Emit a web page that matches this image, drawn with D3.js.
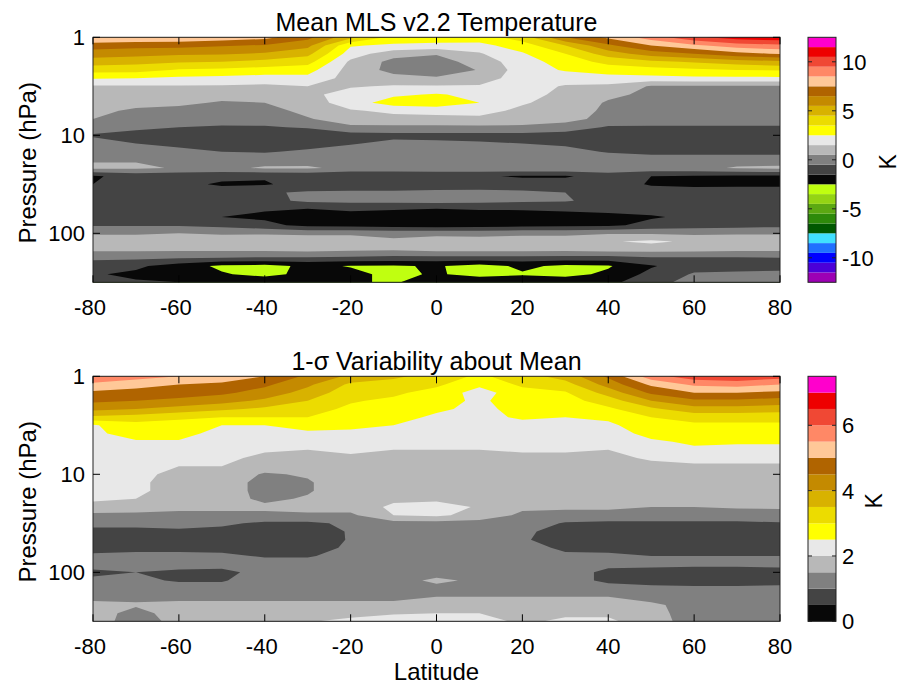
<!DOCTYPE html>
<html>
<head>
<meta charset="utf-8">
<script src="https://cdn.jsdelivr.net/npm/d3@7"></script>
<style>
  body { margin: 0; background: #fff; }
  svg text { font-family: "Liberation Sans", Arial, Helvetica, sans-serif; fill: #000; }
</style>
</head>
<body>
<svg id="chart" width="901" height="687"></svg>
<script>
// grid: latitude columns, pressure rows (12 levels per decade, 1 to 316 hPa)
const latitudes = [-80, -70, -60, -50, -40, -30, -20, -10, 0, 10, 20, 30, 40, 50, 60, 70, 80];
const pressures = [1, 1.21, 1.47, 1.78, 2.15, 2.61, 3.16, 3.83, 4.64, 5.62, 6.81, 8.25, 10,
  12.1, 14.7, 17.8, 21.5, 26.1, 31.6, 38.3, 46.4, 56.2, 68.1, 82.5, 100,
  121, 147, 178, 215, 261, 316];

// mean temperature (K), one array per latitude, values from 1 hPa down to 316 hPa
const meanTemp = [
  [8.5,7.0,6.0,5.0,3.9,2.6,1.4,1.1,1.0,0.8,0.5,0.0,-0.6,-0.2,0.1,0.4,0.7,-1.6,-1.5,-1.0,-0.9,-0.9,-0.8,-0.6,0.4,1.0,0.7,-0.3,-1.0,-1.4,-1.3],
  [8.4,6.8,5.9,4.8,3.9,2.5,1.4,1.1,0.9,0.3,0.1,-0.2,-1.0,-0.5,0.0,0.4,0.7,-1.2,-1.2,-1.0,-0.9,-0.9,-0.8,-0.6,0.4,1.0,0.7,-0.3,-1.3,-1.7,-1.4],
  [8.3,6.8,5.7,4.6,3.4,2.3,1.4,1.0,0.7,0.2,0.0,-0.5,-1.1,-0.8,-0.2,0.2,0.4,-1.2,-1.3,-1.0,-0.9,-0.9,-0.9,-0.6,0.5,1.0,0.7,-0.4,-2.0,-1.9,-1.5],
  [8.1,6.6,5.6,4.5,3.3,2.2,1.4,0.9,0.4,0.1,-0.1,-0.6,-1.2,-1.1,-0.5,0.0,0.3,-1.3,-1.6,-1.1,-1.0,-1.2,-1.5,-0.8,0.4,1.0,0.7,-0.5,-2.7,-2.4,-1.7],
  [7.8,6.4,5.4,4.2,3.1,2.1,1.3,0.9,0.5,0.1,0.0,-0.6,-1.2,-1.2,-0.6,0.1,0.6,-1.4,-1.6,-0.6,-0.8,-1.4,-1.7,-1.2,0.4,1.1,0.7,-0.6,-2.8,-2.8,-1.8],
  [6.8,5.8,4.8,3.9,2.9,2.2,1.5,1.2,1.0,0.8,0.4,-0.4,-1.1,-1.0,-0.3,0.2,0.6,-1.3,-1.1,-0.4,-0.3,-1.5,-2.0,-1.8,0.3,1.1,0.8,-0.6,-2.3,-2.2,-1.8],
  [4.8,2.6,2.0,1.3,1.1,1.1,1.4,2.0,2.0,1.4,1.1,0.3,-0.9,-0.6,0.0,0.2,0.3,-1.5,-1.2,-0.3,-0.2,-1.3,-2.0,-1.9,0.3,1.1,0.7,-0.7,-2.55,-2.3,-2.4],
  [3.2,2.3,0.9,0.2,0.2,0.8,1.6,2.3,3.0,1.7,1.2,0.3,-0.8,-0.2,0.1,0.2,0.3,-1.5,-1.2,-0.3,-0.2,-1.4,-2.1,-2.0,0.2,0.7,0.6,-0.8,-2.6,-2.7,-2.6],
  [3.1,2.2,0.6,0.0,0.0,0.6,1.6,2.6,3.2,1.8,1.2,0.3,-0.8,-0.3,0.1,0.3,0.4,-1.5,-1.2,-0.2,-0.1,-1.5,-2.2,-2.1,0.2,1.0,0.8,-0.8,-2.4,-2.4,-2.0],
  [3.0,2.2,1.4,1.0,0.55,1.0,1.6,2.2,2.5,1.8,1.3,0.3,-0.8,-0.4,0.0,0.2,0.3,-1.4,-1.1,-0.2,-0.2,-1.4,-2.1,-2.0,0.2,0.9,0.8,-0.8,-2.9,-2.8,-1.9],
  [4.0,3.0,2.4,2.0,2.0,2.0,2.0,1.9,1.6,1.3,1.1,0.3,-0.8,-0.5,0.0,0.2,0.3,-1.6,-1.1,-0.3,-0.3,-1.4,-2.0,-1.9,0.3,1.0,0.8,-0.8,-2.3,-2.6,-1.9],
  [6.5,4.5,3.5,3.0,2.6,2.0,1.4,1.2,1.1,1.0,0.9,0.0,-0.9,-0.7,-0.1,0.2,0.3,-1.6,-1.1,-0.5,-0.4,-1.3,-1.9,-1.8,0.3,1.0,0.8,-0.9,-2.7,-2.8,-1.9],
  [7.7,6.3,5.0,3.8,3.0,2.1,1.3,0.7,0.4,0.3,0.1,-0.6,-1.1,-1.1,-0.6,0.1,0.3,-1.1,-1.0,-0.9,-0.9,-1.2,-1.8,-1.7,0.4,1.4,0.9,-0.9,-2.6,-2.3,-1.8],
  [9.0,7.5,6.0,4.3,3.1,2.2,0.4,0.3,0.2,0.2,0.0,-0.6,-1.1,-1.1,-0.8,0.0,0.2,-1.5,-1.6,-1.0,-0.9,-1.1,-1.6,-1.2,0.4,1.7,0.9,-0.6,-1.6,-1.2,-0.8],
  [10.3,8.3,6.5,4.6,3.3,2.3,0.4,0.3,0.2,0.1,0.0,-0.6,-1.1,-1.1,-0.8,0.0,0.2,-1.6,-1.7,-1.1,-0.9,-1.0,-1.3,-1.0,0.3,1.3,0.8,-0.6,-0.9,-0.4,-0.2],
  [11.0,9.0,7.2,5.0,3.5,2.3,0.4,0.3,0.2,0.1,0.0,-0.6,-1.1,-1.1,-0.8,0.0,0.6,-1.7,-1.7,-1.0,-0.7,-0.9,-1.1,-0.9,0.4,1.1,0.7,-0.6,-0.9,-0.3,-0.1],
  [11.2,9.3,7.6,5.3,3.6,2.3,0.4,0.3,0.2,0.1,0.0,-0.6,-1.1,-1.1,-0.8,0.0,0.7,-1.7,-1.7,-1.0,-0.8,-0.9,-1.0,-0.8,0.4,1.1,0.7,-0.5,-0.8,-0.3,-0.1]
];

// 1-sigma variability (K), same layout
const sigmaTemp = [
  [5.9,5.4,4.9,4.6,4.15,3.4,2.45,2.4,2.3,2.3,2.3,2.2,2.2,2.2,2.2,2.1,1.8,1.4,1.1,0.9,0.8,0.8,1.1,1.2,0.9,1.1,1.3,1.4,1.6,1.7,1.8],
  [5.7,5.2,4.8,4.5,4.0,3.3,2.8,2.7,2.45,2.3,2.3,2.2,2.1,2.1,2.1,2.0,1.7,1.4,1.1,0.9,0.85,0.9,1.1,1.2,1.0,1.1,1.3,1.4,1.55,1.35,1.2],
  [5.5,5.0,4.7,4.4,3.8,3.1,2.8,2.7,2.45,2.2,2.1,2.0,1.9,1.8,1.8,1.7,1.6,1.4,1.2,0.9,0.8,0.9,1.1,1.2,0.9,0.95,1.2,1.4,1.6,1.7,1.7],
  [5.3,4.9,4.6,4.2,3.6,3.0,2.5,2.3,2.2,2.15,2.1,2.0,1.8,1.8,1.8,1.7,1.6,1.4,1.1,0.85,0.8,0.85,1.1,1.2,0.85,0.95,1.2,1.4,1.6,1.7,1.7],
  [5.0,4.6,4.3,3.9,3.4,3.0,2.5,2.3,2.2,2.05,1.9,1.7,1.45,1.3,1.3,1.4,1.6,1.4,0.9,0.8,0.75,0.8,0.95,1.2,1.2,1.3,1.3,1.4,1.6,1.7,1.7],
  [4.4,4.1,3.8,3.5,3.2,3.0,2.7,2.4,2.2,2.0,1.9,1.8,1.55,1.45,1.45,1.55,1.7,1.4,0.9,0.7,0.65,0.75,0.95,1.2,1.25,1.3,1.3,1.4,1.6,1.7,1.95],
  [3.9,3.4,3.2,3.05,2.9,2.8,2.6,2.4,2.2,2.1,1.9,1.8,1.8,1.8,1.8,1.8,1.7,1.4,1.1,1.05,1.05,1.1,1.2,1.2,1.3,1.3,1.3,1.4,1.6,1.8,2.15],
  [3.6,3.3,3.1,2.9,2.8,2.7,2.5,2.3,2.2,2.0,1.9,1.8,1.8,1.8,1.8,1.9,2.1,2.0,1.3,1.2,1.2,1.2,1.25,1.3,1.3,1.3,1.35,1.4,1.6,1.9,2.45],
  [3.3,3.1,2.8,2.7,2.6,2.4,2.3,2.2,2.2,2.0,1.9,1.8,1.8,1.8,1.8,1.9,2.2,2.1,1.3,1.2,1.2,1.2,1.25,1.3,1.3,1.6,1.35,1.5,1.8,2.0,2.3],
  [2.9,2.6,2.3,2.4,2.35,2.3,2.25,2.2,2.1,2.0,1.9,1.8,1.8,1.8,1.8,1.9,1.95,1.8,1.3,1.2,1.2,1.2,1.25,1.3,1.35,1.4,1.4,1.5,1.8,2.0,2.2],
  [3.3,3.1,2.8,2.8,2.7,2.6,2.3,2.2,2.15,2.05,1.9,1.8,1.75,1.75,1.75,1.7,1.6,1.4,1.3,1.1,1.05,1.2,1.25,1.3,1.3,1.3,1.4,1.5,1.7,1.9,1.9],
  [3.7,3.3,2.95,2.8,2.7,2.5,2.3,2.2,2.15,2.05,1.9,1.8,1.75,1.75,1.75,1.7,1.6,1.3,0.95,0.8,0.8,0.9,1.1,1.2,1.2,1.2,1.3,1.5,1.7,1.9,2.1],
  [4.6,4.2,3.7,3.25,2.9,2.6,2.4,2.2,2.1,2.0,1.9,1.8,1.8,1.75,1.75,1.7,1.6,1.3,0.9,0.75,0.75,0.85,1.1,1.1,0.9,0.9,1.2,1.5,1.7,1.9,2.1],
  [5.8,5.1,4.6,4.0,3.4,3.0,2.8,2.7,2.4,2.2,2.05,1.9,1.8,1.75,1.75,1.65,1.5,1.3,0.9,0.75,0.7,0.8,1.0,1.1,0.85,0.85,1.1,1.3,1.6,1.65,1.7],
  [6.3,5.6,5.0,4.4,3.8,3.2,2.9,2.8,2.6,2.4,2.1,1.95,1.8,1.8,1.75,1.65,1.5,1.3,0.9,0.7,0.7,0.8,1.0,1.1,0.8,0.8,1.1,1.3,1.3,1.3,1.3],
  [6.4,5.7,5.0,4.4,3.8,3.2,2.9,2.8,2.6,2.3,2.1,1.95,1.8,1.8,1.7,1.65,1.55,1.3,0.9,0.7,0.7,0.8,1.0,1.1,0.8,0.8,1.1,1.3,1.3,1.3,1.3],
  [6.2,5.5,4.9,4.3,3.7,3.2,2.9,2.8,2.6,2.3,2.1,1.95,1.8,1.8,1.5,1.65,1.55,1.35,0.95,0.75,0.75,0.85,1.0,1.1,0.85,0.85,1.1,1.3,1.3,1.3,1.3]
];

// colour maps, lowest band first
const meanColors = ['#9c00b4','#4c00d8','#0000ff','#2070ff','#40e0ff','#005800','#2e8a0a','#5ca812',
  '#94d414','#c0ff10','#080808','#444444','#808080','#b8b8b8','#e8e8e8','#ffff00','#ecdc00',
  '#d8b200','#c48a00','#b06400','#ffc898','#ff8866','#f04834','#ee0000','#ff00cc'];
const sigmaColors = ['#080808','#444444','#808080','#b8b8b8','#e8e8e8','#ffff00','#ecdc00',
  '#d8b200','#c48a00','#b06400','#ffc898','#ff8866','#f04834','#ee0000','#ff00cc'];
const meanRange = [-12.5, 12.5];
const sigmaRange = [0, 7.5];

const latTicks = [-80, -60, -40, -20, 0, 20, 40, 60, 80];
const pressureTicks = [1, 10, 100];
const meanTicks = [-10, -5, 0, 5, 10];
const sigmaTicks = [0, 2, 4, 6];

const svg = d3.select('#chart');
const left = 93, right = 780, plotH = 245;
const cbX = 808, cbW = 28;

const panels = [
  {id: 'mean', title: 'Mean MLS v2.2 Temperature', data: meanTemp, colors: meanColors,
   range: meanRange, ticks: meanTicks, top: 37.3, unitX: 896, xlabel: false},
  {id: 'sigma', title: '1-\u03c3 Variability about Mean', data: sigmaTemp, colors: sigmaColors,
   range: sigmaRange, ticks: sigmaTicks, top: 376.3, unitX: 882, xlabel: true}
];

const nx = latitudes.length, ny = pressures.length;
const x = d3.scaleLinear().domain([latitudes[0], latitudes[nx - 1]]).range([left, right]);
// grid coordinates -> data coordinates (values sit at cell centres)
const gxLat = d3.scaleLinear().domain([0.5, nx - 0.5]).range([latitudes[0], latitudes[nx - 1]]);
const gyLogP = d3.scaleLinear().domain([0.5, ny - 0.5])
  .range([Math.log10(pressures[0]), Math.log10(pressures[ny - 1])]);

panels.forEach(p => {
  const y = d3.scaleLog().domain([pressures[0], pressures[ny - 1]]).range([p.top, p.top + plotH]);
  const bottom = p.top + plotH;
  const g = svg.append('g');

  g.append('clipPath').attr('id', 'clip-' + p.id)
    .append('rect').attr('x', left).attr('y', p.top).attr('width', right - left).attr('height', plotH);

  const step = (p.range[1] - p.range[0]) / p.colors.length;
  const thresholds = d3.range(1, p.colors.length).map(k => p.range[0] + k * step);

  const grid = new Array(nx * ny);
  for (let j = 0; j < ny; j++)
    for (let i = 0; i < nx; i++) grid[j * nx + i] = p.data[i][j];

  const contours = d3.contours().size([nx, ny]).thresholds(thresholds)(grid);
  const proj = d3.geoTransform({
    point(px, py) { this.stream.point(x(gxLat(px)), y(Math.pow(10, gyLogP(py)))); }
  });
  const path = d3.geoPath(proj);

  const plot = g.append('g').attr('clip-path', `url(#clip-${p.id})`);
  plot.append('rect').attr('x', left).attr('y', p.top).attr('width', right - left).attr('height', plotH)
    .attr('fill', p.colors[0]);
  plot.selectAll('path').data(contours).join('path')
    .attr('d', path)
    .attr('fill', (d, k) => p.colors[k + 1]);

  // box and inward ticks
  g.append('rect').attr('x', left).attr('y', p.top).attr('width', right - left).attr('height', plotH)
    .attr('fill', 'none').attr('stroke', '#222').attr('stroke-width', 1);
  latTicks.forEach(t => {
    g.append('line').attr('x1', x(t)).attr('x2', x(t)).attr('y1', bottom).attr('y2', bottom - 7).attr('stroke', '#000');
    g.append('line').attr('x1', x(t)).attr('x2', x(t)).attr('y1', p.top).attr('y2', p.top + 7).attr('stroke', '#000');
    g.append('text').attr('x', x(t) - (t < 0 ? 3 : 0)).attr('y', bottom + 33).attr('text-anchor', 'middle')
      .attr('font-size', 22).text(t);
  });
  pressureTicks.forEach(t => {
    g.append('line').attr('x1', left).attr('x2', left + 7).attr('y1', y(t)).attr('y2', y(t)).attr('stroke', '#000');
    g.append('line').attr('x1', right).attr('x2', right - 7).attr('y1', y(t)).attr('y2', y(t)).attr('stroke', '#000');
    g.append('text').attr('x', left - 8).attr('y', y(t) + 8).attr('text-anchor', 'end')
      .attr('font-size', 22).text(t);
  });

  g.append('text').attr('x', (left + right) / 2).attr('y', p.top - 6.5).attr('text-anchor', 'middle')
    .attr('font-size', 25).text(p.title);
  g.append('text').attr('transform', `translate(36,${p.top + plotH / 2 + 3}) rotate(-90)`)
    .attr('text-anchor', 'middle').attr('font-size', 24).text('Pressure (hPa)');
  if (p.xlabel) {
    g.append('text').attr('x', (left + right) / 2).attr('y', 680).attr('text-anchor', 'middle')
      .attr('font-size', 24).text('Latitude');
  }

  // colour bar
  const c = d3.scaleLinear().domain(p.range).range([bottom, p.top]);
  p.colors.forEach((col, k) => {
    const lo = p.range[0] + k * step, hi = lo + step;
    g.append('rect').attr('x', cbX).attr('y', c(hi)).attr('width', cbW).attr('height', c(lo) - c(hi))
      .attr('fill', col);
  });
  g.append('rect').attr('x', cbX).attr('y', p.top).attr('width', cbW).attr('height', plotH)
    .attr('fill', 'none').attr('stroke', '#222');
  p.ticks.forEach(t => {
    g.append('line').attr('x1', cbX).attr('x2', cbX + 4).attr('y1', c(t)).attr('y2', c(t)).attr('stroke', '#222');
    g.append('line').attr('x1', cbX + cbW).attr('x2', cbX + cbW - 4).attr('y1', c(t)).attr('y2', c(t)).attr('stroke', '#222');
    g.append('text').attr('x', cbX + cbW + 6).attr('y', c(t) + 8).attr('font-size', 22).text(t);
  });
  g.append('text').attr('transform', `translate(${p.unitX},${p.top + plotH / 2 + 2}) rotate(-90)`)
    .attr('text-anchor', 'middle').attr('font-size', 23).text('K');
});
</script>
</body>
</html>
